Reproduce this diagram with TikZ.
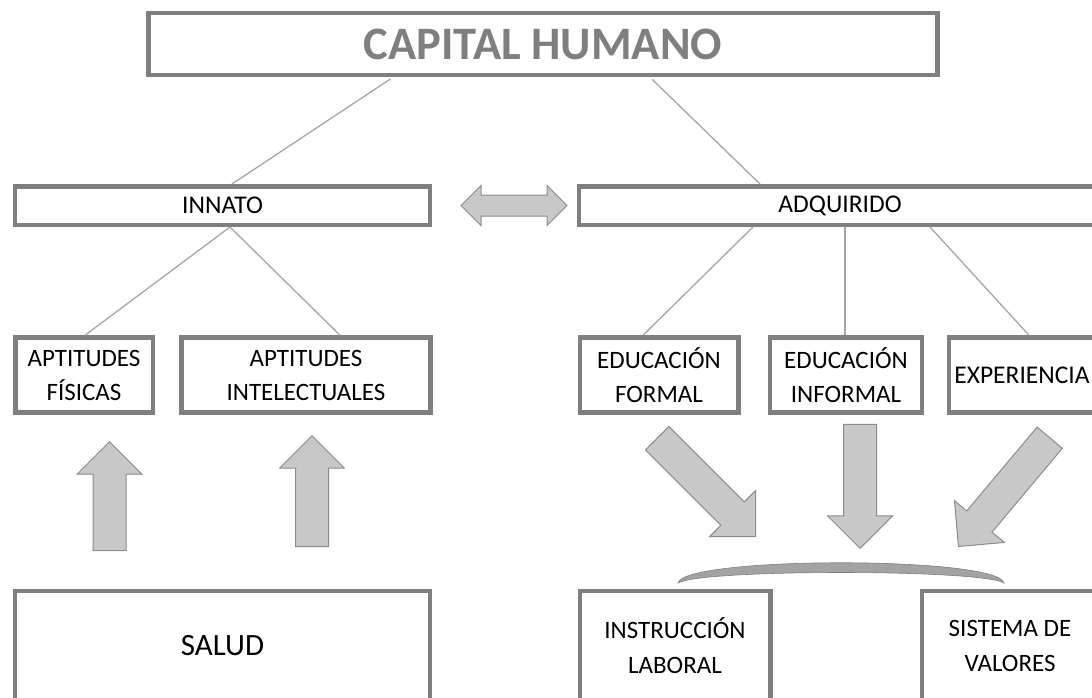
\documentclass[tikz,border=0pt]{standalone}
\usepackage{fontspec}
\setmainfont{Carlito}
\usetikzlibrary{shapes.arrows}
\definecolor{boxgray}{HTML}{7F7F7F}
\definecolor{linegray}{HTML}{A6A6A6}
\definecolor{arrowfill}{HTML}{C8C8C8}
\definecolor{arrowdraw}{HTML}{8C8C8C}
\definecolor{bracegray}{HTML}{A3A3A3}
\begin{document}
\begin{tikzpicture}[x=1pt,y=-1pt]
        \tikzstyle{box}=[draw=boxgray,line width=4.5pt,fill=white,align=center,inner sep=0pt,font=\fontsize{25}{34}\selectfont]
        \tikzstyle{link}=[draw=linegray,line width=1.3pt]
        \tikzstyle{bigarrow}=[single arrow,draw=arrowdraw,fill=arrowfill,line width=1pt,inner xsep=0pt,inner ysep=16pt,single arrow head extend=16pt,anchor=tip]
        \useasboundingbox (0,0) rectangle (1092,697);
       \begin{scope}
         \node [box,minimum width=789pt,minimum height=62pt,font=\fontsize{46.5}{50}\selectfont\bfseries,text=boxgray] (capital) at (543,44) {CAPITAL HUMANO};
         \node [box,minimum width=415pt,minimum height=38.5pt,font=\fontsize{25.5}{30}\selectfont] (innato) at (222.5,205.5) {INNATO};
         \node [box,minimum width=522pt,minimum height=38.5pt,font=\fontsize{25.5}{30}\selectfont] (adquirido) at (840,205.5) {ADQUIRIDO};

         \node [box,minimum width=137.5pt,minimum height=75pt] (fisicas) at (84,375) {APTITUDES\\FÍSICAS};
         \node [box,minimum width=249pt,minimum height=75pt] (intelectuales) at (306,375) {APTITUDES\\INTELECTUALES};
         \node [box,minimum width=158.5pt,minimum height=75pt] (formal) at (659,375) {EDUCACIÓN\\FORMAL};
         \node [box,minimum width=152pt,minimum height=75pt] (informal) at (846,375) {EDUCACIÓN\\INFORMAL};
         \node [box,minimum width=146pt,minimum height=75pt,font=\fontsize{25.5}{34}\selectfont] (experiencia) at (1022,375) {EXPERIENCIA};

         \node [box,minimum width=415pt,minimum height=110pt,font=\fontsize{31}{36}\selectfont] (salud) at (222.5,646) {SALUD};
         \node [box,minimum width=190.5pt,minimum height=110pt,font=\fontsize{25}{35}\selectfont] (instruccion) at (675,646) {INSTRUCCIÓN\\LABORAL};
         \node [box,minimum width=176pt,minimum height=110pt,font=\fontsize{25}{35}\selectfont] (sistema) at (1010,646) {SISTEMA DE\\VALORES};

         \path[link,shorten <=3pt] ([xshift=-150]capital.south) edge ([xshift=9.5]innato.north);
         \path[link,shorten <=3pt] ([xshift=107]capital.south) edge ([xshift=-80]adquirido.north);
         \path[link] ([xshift=7.5]innato.south) edge ([xshift=1]fisicas.north);
         \path[link] ([xshift=7.5]innato.south) edge ([xshift=34]intelectuales.north);
         \path[link] ([xshift=-87]adquirido.south) edge ([xshift=-16]formal.north);
         \path[link] ([xshift=5]adquirido.south) edge ([xshift=-1]informal.north);
         \path[link] ([xshift=90]adquirido.south) edge ([xshift=7]experiencia.north);

         % block arrows
         \node [double arrow,draw=arrowdraw,fill=arrowfill,line width=1pt,inner xsep=0pt,inner ysep=10pt,minimum height=106pt,double arrow head extend=9.5pt] (ambos) at (514,205.5) {};
         \node [bigarrow,minimum height=109pt,rotate=90] (upfisicas) at (109.5,441) {};
         \node [bigarrow,minimum height=111pt,rotate=90] (upintel) at (312,435) {};
         \node [bigarrow,minimum height=139pt,rotate=-45] (downformal) at (756,537) {};
         \node [bigarrow,minimum height=124pt,rotate=-90] (downinformal) at (860,549) {};
         \node [bigarrow,minimum height=142pt,rotate=-130] (downexp) at (958,547) {};

         \fill[bracegray,draw=boxgray,line width=0.6pt] (678,583) .. controls (684,556) and (998,556) .. (1004,583)
              .. controls (982,569) and (700,569) .. cycle;
        \end{scope}
\end{tikzpicture}
\end{document}
